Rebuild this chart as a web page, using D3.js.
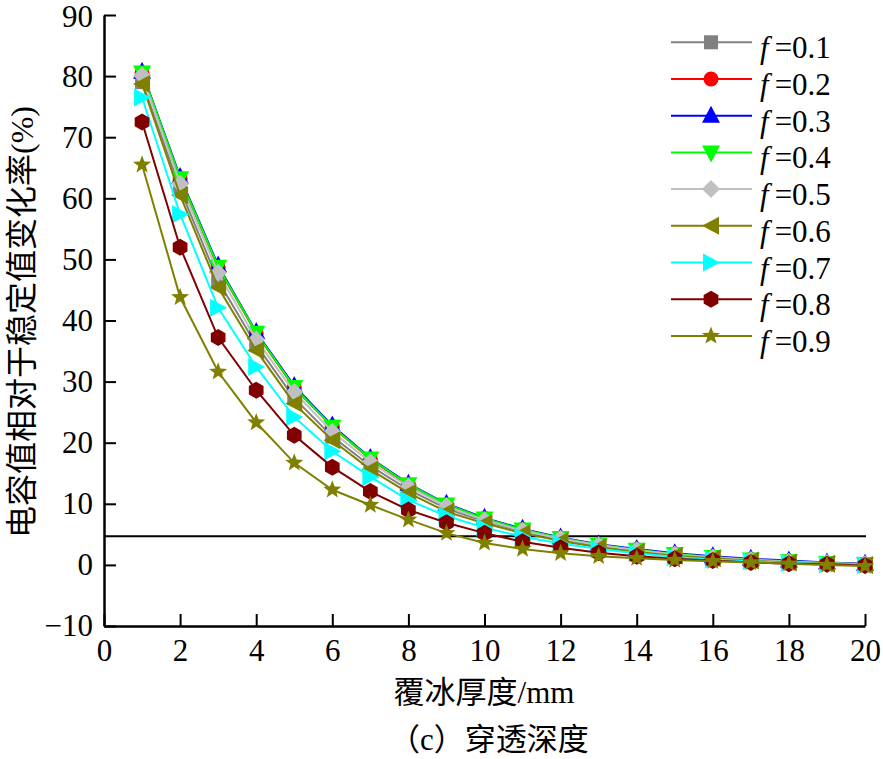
<!DOCTYPE html>
<html>
<head>
<meta charset="utf-8">
<script src="https://cdn.jsdelivr.net/npm/d3@7/dist/d3.min.js"></script>
<style>
html,body{margin:0;padding:0;background:#fff;}
svg{display:block;}
text{font-family:"Liberation Serif","Noto Sans CJK SC",serif;fill:#000;}
</style>
</head>
<body>
<svg id="chart" width="883" height="759"></svg>
<script>
const thickness = [1,2,3,4,5,6,7,8,9,10,11,12,13,14,15,16,17,18,19,20];
const seriesNames = ["0.1","0.2","0.3","0.4","0.5","0.6","0.7","0.8","0.9"];
const f01 = [79.0,61.5,46.5,36.0,27.3,21.0,16.2,12.3,9.2,7.1,5.5,4.2,3.1,2.3,1.7,1.2,0.8,0.5,0.3,0.1];
const f02 = [80.5,63.2,48.7,37.9,29.0,22.6,17.3,13.1,9.8,7.6,5.8,4.4,3.3,2.5,1.8,1.3,0.9,0.6,0.3,0.1];
const f03 = [80.7,63.5,49.0,38.1,29.3,22.8,17.5,13.3,10.0,7.7,5.9,4.5,3.4,2.6,1.9,1.4,1.0,0.7,0.4,0.2];
const f04 = [80.6,63.3,48.8,38.0,29.1,22.6,17.4,13.2,9.9,7.6,5.8,4.4,3.3,2.5,1.8,1.3,0.9,0.6,0.3,0.1];
const f05 = [80.1,62.4,47.8,36.9,28.3,21.8,16.8,12.8,9.6,7.3,5.6,4.3,3.2,2.4,1.7,1.2,0.8,0.5,0.3,0.1];
const f06 = [78.7,60.5,45.4,35.1,26.4,20.4,15.6,11.8,8.7,6.8,5.2,3.9,2.9,2.1,1.5,1.1,0.7,0.4,0.2,0.0];
const f07 = [76.5,57.4,42.1,32.4,24.2,18.6,14.4,10.6,8.0,6.1,4.6,3.5,2.6,1.9,1.3,0.9,0.6,0.3,0.1,0.0];
const f08 = [72.5,52.0,37.2,28.6,21.2,16.0,12.0,9.0,6.9,5.2,3.8,2.8,2.0,1.4,1.0,0.7,0.4,0.2,0.1,-0.1];
const f09 = [65.5,43.8,31.6,23.3,16.7,12.3,9.8,7.4,5.2,3.6,2.6,1.9,1.4,1.1,0.8,0.6,0.4,0.2,0.0,-0.2];
const thresholdValue = 4.7;
const xTicks = [0,2,4,6,8,10,12,14,16,18,20];
const yTicks = [-10,0,10,20,30,40,50,60,70,80,90];
const xTitle = "覆冰厚度/mm";
const yTitle = "电容值相对于稳定值变化率(%)";
const caption = "（c）穿透深度";

const allSeries = [f01,f02,f03,f04,f05,f06,f07,f08,f09];
const colors = ["#808080","#ff0000","#0000ff","#00ff00","#c0c0c0","#808000","#00ffff","#800000","#808000"];
const shapes = ["square","circle","triUp","triDown","diamond","triLeft","triRight","hexagon","star"];

function shapePath(s){
  const poly = pts => "M" + pts.map(p => p[0].toFixed(2)+","+p[1].toFixed(2)).join("L") + "Z";
  switch(s){
    case "square": return poly([[-7,-7],[7,-7],[7,7],[-7,7]]);
    case "circle": return "M7.5,0A7.5,7.5 0 1,1 -7.5,0A7.5,7.5 0 1,1 7.5,0Z";
    case "triUp": return poly([[0,-10],[9,7],[-9,7]]);
    case "triDown": return poly([[0,10],[9,-7],[-9,-7]]);
    case "diamond": return poly([[0,-9],[9,0],[0,9],[-9,0]]);
    case "triLeft": return poly([[-9,0],[8,-9],[8,9]]);
    case "triRight": return poly([[9,0],[-8,-9],[-8,9]]);
    case "hexagon": {
      const p=[]; for(let k=0;k<6;k++){const a=Math.PI/2+k*Math.PI/3; p.push([8.5*Math.cos(a),8.5*Math.sin(a)]);} return poly(p);
    }
    case "star": {
      const p=[]; for(let k=0;k<10;k++){const r=k%2===0?9.5:4; const a=-Math.PI/2+k*Math.PI/5; p.push([r*Math.cos(a),r*Math.sin(a)]);} return poly(p);
    }
  }
}

const svg = d3.select("#chart");
const x = d3.scaleLinear().domain([0,20]).range([104,865]);
const y = d3.scaleLinear().domain([-10,90]).range([626,15]);

// threshold line
svg.append("line")
  .attr("x1", x(0)).attr("x2", x(20)+1)
  .attr("y1", y(thresholdValue)).attr("y2", y(thresholdValue))
  .attr("stroke","#000").attr("stroke-width",2);

// series
const line = d3.line().x((d,i)=>x(thickness[i])).y(d=>y(d));
allSeries.forEach((vals,si)=>{
  const g = svg.append("g");
  g.append("path").attr("d", line(vals)).attr("fill","none")
    .attr("stroke", colors[si]).attr("stroke-width",2);
  g.selectAll("path.m").data(vals).enter().append("path").attr("class","m")
    .attr("d", shapePath(shapes[si]))
    .attr("transform",(d,i)=>`translate(${x(thickness[i])},${y(d)})`)
    .attr("fill", colors[si]);
});

// axes
const yAxis = d3.axisLeft(y).tickValues(yTicks).tickSizeInner(-12).tickSizeOuter(0).tickPadding(11)
  .tickFormat(d=> d<0 ? "−"+Math.abs(d) : String(d));
const gy = svg.append("g").attr("transform",`translate(${x(0)},0)`).call(yAxis);
const xAxis = d3.axisBottom(x).tickValues(xTicks).tickSizeInner(-12).tickSizeOuter(0).tickPadding(13);
const gx = svg.append("g").attr("transform",`translate(0,${y(-10)})`).call(xAxis);
[gx,gy].forEach(g=>{
  g.select(".domain").attr("stroke","#000").attr("stroke-width",2.5);
  g.selectAll(".tick line").attr("stroke","#000").attr("stroke-width",2);
  g.selectAll(".tick text").attr("font-size",31).attr("font-family",'"Liberation Serif",serif').attr("fill","#000");
});
gy.selectAll(".tick text").filter(d=>d===90).attr("dy","0.38em");

// titles
svg.append("text").attr("x",484).attr("y",703).attr("text-anchor","middle")
  .attr("font-size",31).text(xTitle);
svg.append("text").attr("x",489).attr("y",750).attr("text-anchor","middle")
  .attr("font-size",31).text(caption);
svg.append("text").attr("transform","translate(33,322) rotate(-90)").attr("text-anchor","middle")
  .attr("font-size",32).text(yTitle);

// legend
const legY0 = 42.3, legDy = 36.7;
seriesNames.forEach((nm,si)=>{
  const ly = legY0 + si*legDy;
  const g = svg.append("g");
  g.append("line").attr("x1",671).attr("x2",752).attr("y1",ly).attr("y2",ly)
    .attr("stroke",colors[si]).attr("stroke-width",2);
  g.append("path").attr("d",shapePath(shapes[si])).attr("transform",`translate(711,${ly})`)
    .attr("fill",colors[si]);
  const t = g.append("text").attr("x",760).attr("y",ly+16).attr("font-size",31);
  t.append("tspan").attr("font-style","italic").text("f");
  t.append("tspan").attr("dx",6).text("=" + nm);
});
</script>
</body>
</html>
